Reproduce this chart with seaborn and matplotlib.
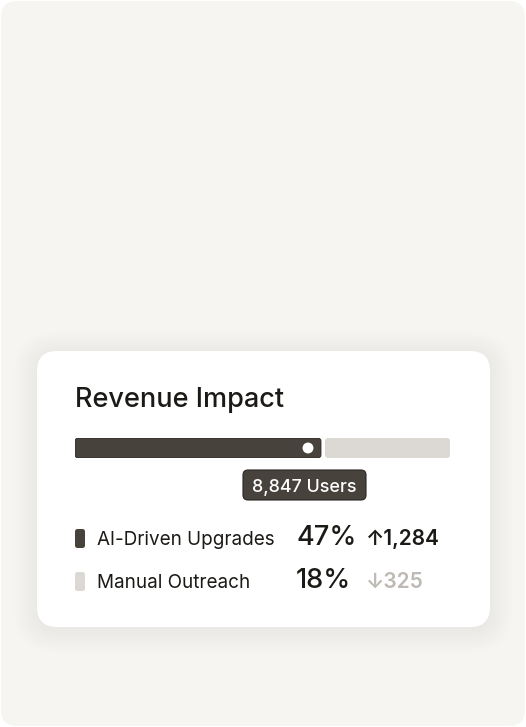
import matplotlib.pyplot as plt
import seaborn as sns
from matplotlib.patches import FancyBboxPatch

title = "Revenue Impact"
channels = ["AI-Driven Upgrades", "Manual Outreach"]
shares = [47, 18]
deltas = [1284, 325]
trend_up = [True, False]
progress = 65.6      # filled part of the bar, in %
users = 8847

sns.set_theme(style="white")
plt.rcParams["font.family"] = ["Inter", "DejaVu Sans"]

DARK = "#47423c"
LIGHT = "#dcd9d5"
INK = "#1c1a17"
MUTED = "#bdb9b3"

W, H = 526, 727
fig = plt.figure(figsize=(W / 100, H / 100), dpi=100, facecolor="white")

# background axes in pixel units (y goes down)
bg = fig.add_axes([0, 0, 1, 1])
bg.set_xlim(0, W)
bg.set_ylim(H, 0)
bg.axis("off")

bg.add_patch(FancyBboxPatch((1, 1), W - 2, H - 2, boxstyle="round,pad=0,rounding_size=16",
                            fc="#f6f5f1", ec="none"))

# card + soft shadow
cx0, cy0, cw, ch = 37, 351, 453, 276
for i in range(12):
    s = 1 + i * 2
    bg.add_patch(FancyBboxPatch((cx0 - s, cy0 - s + 3), cw + 2 * s, ch + 2 * s,
                                boxstyle=f"round,pad=0,rounding_size={20 + s}",
                                fc="#7a6f60", ec="none", alpha=0.005))
bg.add_patch(FancyBboxPatch((cx0, cy0), cw, ch, boxstyle="round,pad=0,rounding_size=20",
                            fc="white", ec="none"))

bg.text(75, 407, title, fontsize=19.5, color=INK, va="baseline", ha="left", fontweight="medium")

# progress bar on its own axes, x in percent
bx0, bw, by0, bh = 75, 375, 438, 20
bar = fig.add_axes([bx0 / W, 1 - (by0 + bh) / H, bw / W, bh / H])
bar.set_xlim(0, 100)
bar.set_ylim(0, 1)
bar.axis("off")
ux = bw / 100          # px per percent
gap = 4 / ux
r = 3 / ux
asp = (1 / bh) / (1 / ux)
bar.add_patch(FancyBboxPatch((0, 0), progress, 1, boxstyle=f"round,pad=0,rounding_size={r}",
                             mutation_aspect=asp, fc=DARK, ec="#2e2a26", lw=0.6))
bar.add_patch(FancyBboxPatch((progress + gap, 0), 100 - progress - gap, 1,
                             boxstyle=f"round,pad=0,rounding_size={r}",
                             mutation_aspect=asp, fc=LIGHT, ec="none"))
dot_x = progress - 13 / ux
sns.scatterplot(x=[dot_x], y=[0.5], ax=bar, s=62, color="white", edgecolor="none", zorder=5)

# tooltip under the dot
tx = bx0 + dot_x * ux - 3.5
bg.add_patch(FancyBboxPatch((tx - 61.5, 470), 123, 30, boxstyle="round,pad=0,rounding_size=5",
                            fc=DARK, ec="#2a2622", lw=0.8))
bg.text(tx, 492, f"{users:,} Users", fontsize=12.9, color="white", ha="center", va="baseline",
        fontweight="medium")

# legend rows
swatch_colors = [DARK, LIGHT]
baselines = [545, 588]
for name, share, delta, up, col, yb in zip(channels, shares, deltas, trend_up, swatch_colors, baselines):
    bg.add_patch(FancyBboxPatch((75, yb - 16), 10, 19, boxstyle="round,pad=0,rounding_size=2.5",
                                fc=col, ec="none"))
    bg.text(97, yb, name, fontsize=13.6, color=INK, va="baseline")
    bg.text(296, yb, f"{share}%", fontsize=19.5, color=INK, va="baseline", fontweight="medium")
    arrow = "\u2191" if up else "\u2193"
    bg.text(366, yb, f"{arrow}{delta:,}", fontsize=15, color=INK if up else MUTED,
            va="baseline", fontweight="semibold")

fig.savefig("out.png", dpi=100, facecolor="white")
